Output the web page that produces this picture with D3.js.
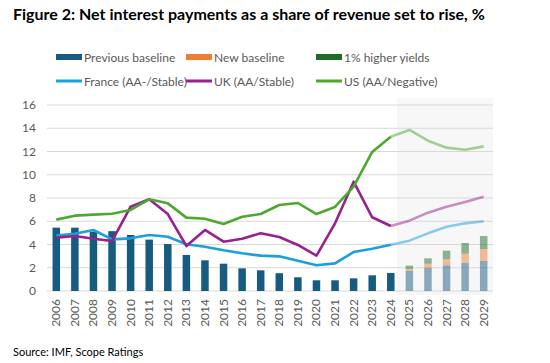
<!DOCTYPE html>
<html>
<head>
<meta charset="utf-8">
<script src="https://cdn.jsdelivr.net/npm/d3@7"></script>
<style>
  body { margin: 0; background: #fff; }
  svg { display: block; font-family: Lato, "Open Sans", sans-serif; }
</style>
</head>
<body>
<svg width="550" height="363"></svg>
<script>
var years = ['2006','2007','2008','2009','2010','2011','2012','2013','2014','2015','2016','2017',
             '2018','2019','2020','2021','2022','2023','2024','2025','2026','2027','2028','2029'];
var forecastYears = ['2025','2026','2027','2028','2029'];

// previous baseline, then the increments stacked on top
var previousBaseline = [5.45,5.45,5.1,5.15,4.82,4.42,4.04,3.1,2.64,2.35,1.95,1.78,1.53,1.18,0.92,0.92,1.09,1.35,1.55,1.72,2.0,2.21,2.41,2.58];
var newBaselineAdd   = [0,0,0,0,0,0,0,0,0,0,0,0,0,0,0,0,0,0,0,0.17,0.35,0.54,0.8,1.03];
var higherYieldsAdd  = [0,0,0,0,0,0,0,0,0,0,0,0,0,0,0,0,0,0,0,0.29,0.46,0.72,0.92,1.12];

var france = [4.76,4.93,5.25,4.44,4.53,4.82,4.67,4.02,3.81,3.5,3.24,3.04,2.98,2.61,2.21,2.38,3.35,3.64,3.98,4.33,4.96,5.53,5.82,6.0];
var uk     = [4.59,4.73,4.5,4.3,7.25,7.89,6.62,3.87,5.25,4.24,4.5,4.96,4.65,3.96,3.04,5.82,9.4,6.34,5.59,6.05,6.74,7.25,7.66,8.11];
var us     = [6.14,6.48,6.57,6.65,6.97,7.89,7.54,6.31,6.22,5.76,6.39,6.62,7.4,7.57,6.62,7.23,8.97,11.96,13.27,13.85,12.93,12.33,12.15,12.44];

var yTicks = [0,2,4,6,8,10,12,14,16];

var svg = d3.select('svg');
var grey = '#595959';

var x = d3.scaleBand().domain(years).range([47, 493]);
var y = d3.scaleLinear().domain([0, 16]).range([291, 105]);

// title
svg.append('text')
    .attr('x', 13).attr('y', 20)
    .attr('font-size', 16).attr('font-weight', 'bold').attr('fill', '#000')
    .text('Figure 2: Net interest payments as a share of revenue set to rise, %');

// forecast shading
svg.append('rect')
    .attr('x', x('2025') - 3).attr('y', 98)
    .attr('width', 493 - (x('2025') - 3)).attr('height', 197)
    .attr('fill', '#f7f7f7');

// gridlines + y labels
svg.append('g').selectAll('line').data(yTicks).join('line')
    .attr('x1', 47).attr('x2', 493)
    .attr('y1', function (d) { return y(d); }).attr('y2', function (d) { return y(d); })
    .attr('stroke', '#d9d9d9').attr('stroke-width', 1);

svg.append('g').selectAll('text').data(yTicks).join('text')
    .attr('x', 36).attr('y', function (d) { return y(d) + 4; })
    .attr('text-anchor', 'end').attr('font-size', 12).attr('fill', grey)
    .text(function (d) { return d; });

// x labels
svg.append('g').selectAll('text').data(years).join('text')
    .attr('transform', function (d) {
        return 'translate(' + (x(d) + x.bandwidth() / 2 + 4) + ',299) rotate(-90)';
    })
    .attr('text-anchor', 'end').attr('font-size', 12).attr('fill', grey)
    .text(function (d) { return d; });

// bars
var isF = function (yr) { return forecastYears.indexOf(yr) >= 0; };
var bw = 7.5;
var barG = svg.append('g');
years.forEach(function (yr, i) {
    var cx = x(yr) + x.bandwidth() / 2;
    var base = previousBaseline[i], nb = base + newBaselineAdd[i], hy = nb + higherYieldsAdd[i];
    var op = isF(yr) ? 0.5 : 1;
    barG.append('rect').attr('x', cx - bw / 2).attr('width', bw)
        .attr('y', y(base)).attr('height', y(0) - y(base))
        .attr('fill', '#175b80').attr('opacity', op);
    if (newBaselineAdd[i] > 0) {
        barG.append('rect').attr('x', cx - bw / 2).attr('width', bw)
            .attr('y', y(nb)).attr('height', y(base) - y(nb))
            .attr('fill', '#ed7d31').attr('opacity', op);
    }
    if (higherYieldsAdd[i] > 0) {
        barG.append('rect').attr('x', cx - bw / 2).attr('width', bw)
            .attr('y', y(hy)).attr('height', y(nb) - y(hy))
            .attr('fill', '#1e6b2c').attr('opacity', op);
    }
});

// lines: solid history, faded forecast
var line = d3.line()
    .x(function (d) { return x(d.year) + x.bandwidth() / 2; })
    .y(function (d) { return y(d.v); });

var series = [
    { name: 'France (AA-/Stable)', values: france, color: '#1aa0dc' },
    { name: 'UK (AA/Stable)', values: uk, color: '#97218f' },
    { name: 'US (AA/Negative)', values: us, color: '#4ea72e' }
];

series.forEach(function (s) {
    var pts = years.map(function (yr, i) { return { year: yr, v: s.values[i] }; });
    var hist = pts.filter(function (p) { return +p.year <= 2024; });
    var fc = pts.filter(function (p) { return +p.year >= 2024; });
    svg.append('path').datum(hist).attr('d', line)
        .attr('fill', 'none').attr('stroke', s.color).attr('stroke-width', 2.6)
        .attr('stroke-linejoin', 'round');
    svg.append('path').datum(fc).attr('d', line)
        .attr('fill', 'none').attr('stroke', s.color).attr('stroke-width', 2.6)
        .attr('stroke-opacity', 0.5).attr('stroke-linejoin', 'round');
});

// legend
var legendBars = [
    { name: 'Previous baseline', color: '#175b80' },
    { name: 'New baseline', color: '#ed7d31' },
    { name: '1% higher yields', color: '#1e6b2c' }
];
var legendX = [56, 186, 316];
var lg = svg.append('g');
legendBars.forEach(function (d, i) {
    lg.append('rect').attr('x', legendX[i]).attr('y', 54).attr('width', 26).attr('height', 6)
        .attr('fill', d.color);
    lg.append('text').attr('x', legendX[i] + 28).attr('y', 61.5)
        .attr('font-size', 12).attr('fill', grey).text(d.name);
});
series.forEach(function (d, i) {
    lg.append('line').attr('x1', legendX[i]).attr('x2', legendX[i] + 26)
        .attr('y1', 81).attr('y2', 81)
        .attr('stroke', d.color).attr('stroke-width', 3);
    lg.append('text').attr('x', legendX[i] + 28).attr('y', 85.5)
        .attr('font-size', 12).attr('fill', grey).text(d.name);
});

// source
svg.append('text').attr('x', 13).attr('y', 356)
    .attr('font-size', 11).attr('fill', '#000')
    .text('Source: IMF, Scope Ratings');
</script>
</body>
</html>
